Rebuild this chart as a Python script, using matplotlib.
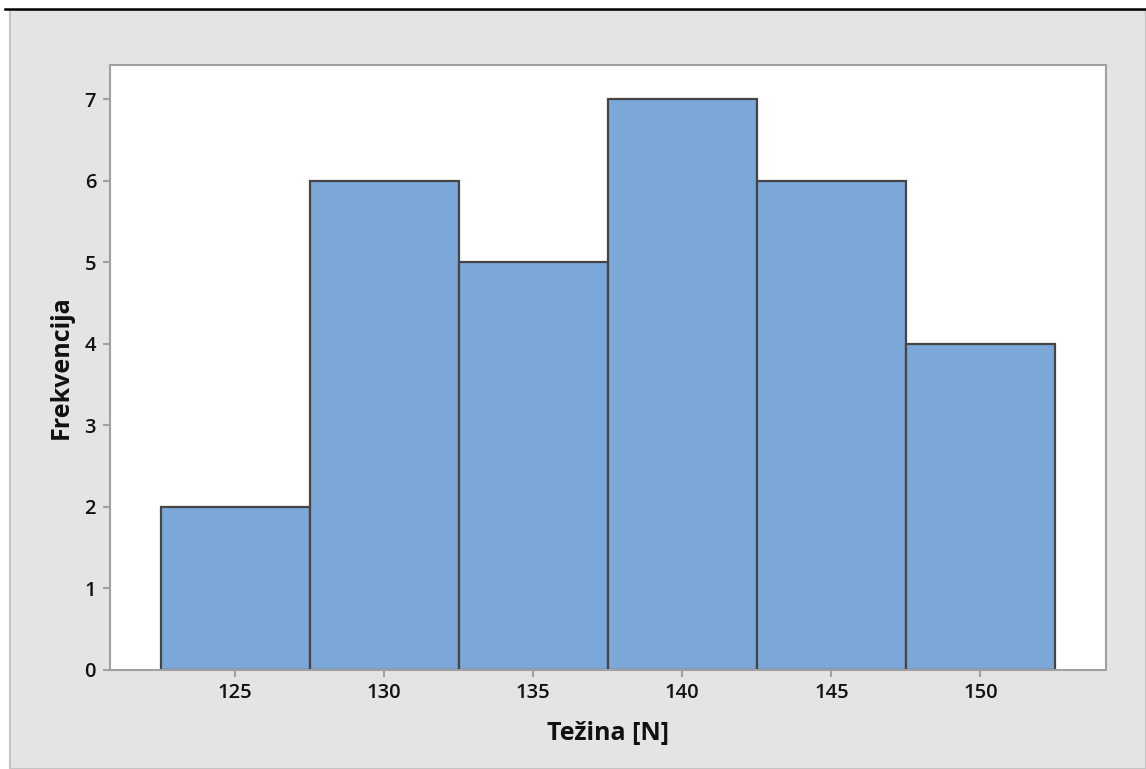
import matplotlib
matplotlib.use("Agg")
import matplotlib.pyplot as plt
from matplotlib.patches import Rectangle
from matplotlib.lines import Line2D

bin_edges = [122.5, 127.5, 132.5, 137.5, 142.5, 147.5, 152.5]
frequencies = [2, 6, 5, 7, 6, 4]
x_ticks = [125, 130, 135, 140, 145, 150]
y_ticks = [0, 1, 2, 3, 4, 5, 6, 7]
x_label = "Težina [N]"
y_label = "Frekvencija"

plt.rcParams['font.family'] = ['Open Sans', 'DejaVu Sans']

W, H = 1146, 769
fig = plt.figure(figsize=(W / 100, H / 100), dpi=100)
fig.patch.set_facecolor('white')

# grey panel
fig.patches.append(Rectangle((10 / W, 0), 1 - 10 / W, 1 - 10 / H, transform=fig.transFigure,
                             facecolor='#e4e4e4', edgecolor='#c4c4c4', linewidth=1.5, zorder=-10))
# header rule
fig.lines.append(Line2D([5 / W, 1], [1 - 9 / H, 1 - 9 / H], transform=fig.transFigure,
                        color='black', linewidth=1.8, zorder=-9))

ax = fig.add_axes([110 / W, 1 - 669.5 / H, (1105.5 - 110) / W, (669.5 - 65) / H])
ax.set_zorder(5)
ax.set_facecolor('white')

widths = [bin_edges[i + 1] - bin_edges[i] for i in range(len(frequencies))]
ax.bar(bin_edges[:-1], frequencies, width=widths, align='edge',
       color='#7ba7d9', edgecolor='#454545', linewidth=1.6, zorder=2)

ax.set_xlim(120.8, 154.2)
ax.set_ylim(0, 7.42)
ax.set_xticks(x_ticks)
ax.set_yticks(y_ticks)

for s in ax.spines.values():
    s.set_color('#a0a0a0')
    s.set_linewidth(1.5)

ax.tick_params(axis='both', direction='out', length=5, width=1.5, color='#a0a0a0',
               labelsize=14.5, labelcolor='#111111', pad=5)
for lab in ax.get_xticklabels() + ax.get_yticklabels():
    lab.set_fontweight('semibold')

ax.set_xlabel(x_label, fontsize=18, fontweight='bold', color='#111111', labelpad=13)
ax.set_ylabel(y_label, fontsize=18, fontweight='bold', color='#111111', labelpad=8)

fig.savefig('out.png', dpi=100)
